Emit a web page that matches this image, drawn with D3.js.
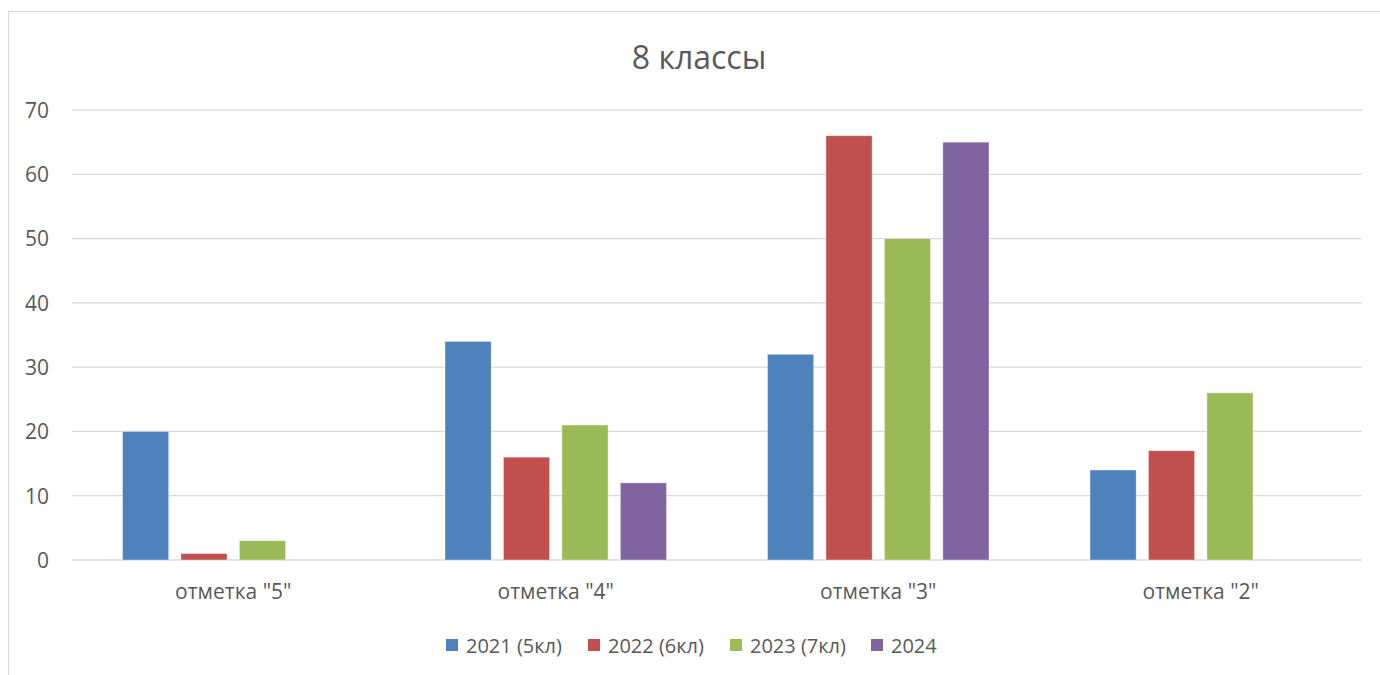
<!DOCTYPE html>
<html><head><meta charset="utf-8">
<script src="https://cdn.jsdelivr.net/npm/d3@7"></script>
<style>body{margin:0;background:#fff}svg{display:block}</style>
</head><body>
<script>
const categories = ['отметка "5"', 'отметка "4"', 'отметка "3"', 'отметка "2"'];
const seriesNames = ["2021 (5кл)", "2022 (6кл)", "2023 (7кл)", "2024"];
const s2021 = [20, 34, 32, 14];
const s2022 = [1, 16, 66, 17];
const s2023 = [3, 21, 50, 26];
const s2024 = [0, 12, 65, 0];
const yTicks = [0, 10, 20, 30, 40, 50, 60, 70];
const title = "8 классы";
const colors = ["#4F81BD", "#C0504D", "#9BBB59", "#8064A2"];

(function () {
const seriesValues = [s2021, s2022, s2023, s2024];
const W = 1380, H = 675;
const font = "'Open Sans', sans-serif";
const svg = d3.select("body").append("svg").attr("width", W).attr("height", H);

// chart frame
svg.append("path").attr("d", `M8.5,${H} L8.5,11.5 L${W},11.5`)
  .attr("fill", "none").attr("stroke", "#d9d9d9").attr("stroke-width", 1.2);

const pL = 72, pR = 1362, pT = 110, pB = 560;
const y = d3.scaleLinear().domain([0, 70]).range([pB, pT]);
const x0 = d3.scaleBand().domain(categories).range([pL, pR]).padding(0);
const outer = 50.5;
const x1 = d3.scaleBand().domain(seriesNames).range([outer, x0.bandwidth() - outer]).paddingInner(0.21);

// gridlines
svg.append("g").selectAll("line").data(yTicks).join("line")
  .attr("x1", pL).attr("x2", pR)
  .attr("y1", d => y(d)).attr("y2", d => y(d))
  .attr("stroke", "#d9d9d9").attr("stroke-width", 1.3);

// y axis labels
const yAxis = d3.axisLeft(y).tickValues(yTicks).tickSize(0).tickPadding(0);
const ya = svg.append("g").attr("transform", "translate(49,0)").call(yAxis);
ya.select(".domain").remove();
ya.selectAll("text").attr("font-family", font).attr("font-size", 21).attr("fill", "#595959").attr("dy", "0.35em");

// bars
const g = svg.append("g");
categories.forEach((c, ci) => {
  seriesNames.forEach((s, si) => {
    const v = seriesValues[si][ci];
    if (!v) return;
    g.append("rect")
      .attr("x", x0(c) + x1(s))
      .attr("y", y(v))
      .attr("width", x1.bandwidth())
      .attr("height", y(0) - y(v))
      .attr("fill", colors[si])
      .attr("stroke", "#ffffff").attr("stroke-opacity", 0.5).attr("stroke-width", 0.8);
  });
});

// x axis labels
const xAxis = d3.axisBottom(x0).tickSize(0).tickPadding(0);
const xa = svg.append("g").attr("transform", `translate(0,${pB + 32})`).call(xAxis);
xa.select(".domain").remove();
xa.selectAll("text").attr("font-family", font).attr("font-size", 21).attr("fill", "#595959").attr("dy", "0.35em");

// title
svg.append("text").attr("x", 699).attr("y", 56).attr("text-anchor", "middle")
  .attr("dominant-baseline", "central")
  .attr("font-family", font).attr("font-size", 32).attr("fill", "#595959").text(title);

// legend
const legendX = [446, 588, 730, 871];
const lg = svg.append("g");
seriesNames.forEach((s, i) => {
  lg.append("rect").attr("x", legendX[i]).attr("y", 639).attr("width", 12).attr("height", 12).attr("fill", colors[i]);
  lg.append("text").attr("x", legendX[i] + 20).attr("y", 645).attr("dominant-baseline", "central")
    .attr("font-family", font).attr("font-size", 20).attr("fill", "#595959").text(s);
});
})();
</script>
</body></html>
